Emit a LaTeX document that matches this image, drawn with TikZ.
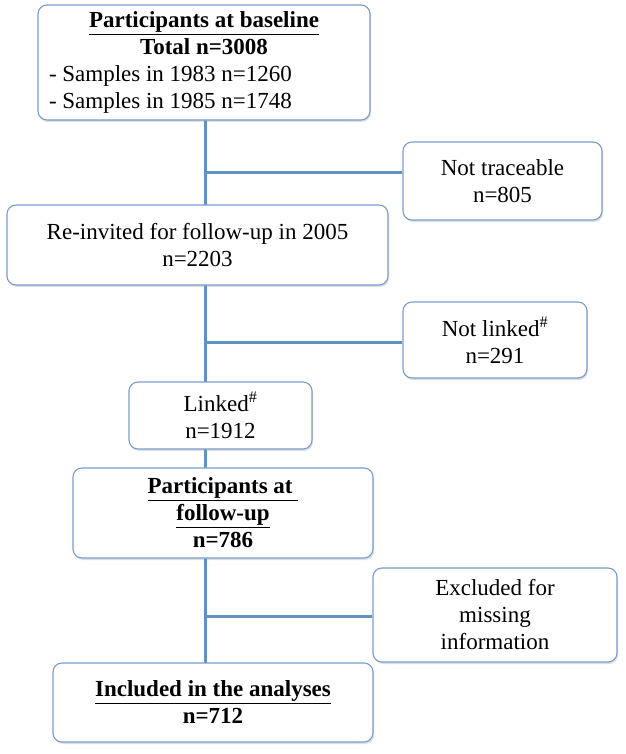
\documentclass[tikz,border=0pt]{standalone}
\usepackage{fontspec}
\setmainfont{Liberation Serif}
\usetikzlibrary{positioning,shadows}
\definecolor{boxline}{RGB}{120,156,205}
\definecolor{trunkline}{RGB}{98,145,196}
\tikzset{
  flowbox/.style={draw=boxline, line width=1.1pt, rounded corners=9pt, fill=white,
    align=center, font=\fontsize{23}{27}\selectfont, inner sep=2pt,
    drop shadow={shadow xshift=1pt, shadow yshift=-2pt, fill=black!25}},
  link/.style={trunkline, line width=3pt}
}
\begin{document}
\begin{tikzpicture}[x=1pt,y=-1pt]
        \useasboundingbox (0,0) rectangle (625,754);

        \coordinate (trunk) at (205,0);

        % trunk behind the boxes
        \coordinate (top) at (205,120);
        \coordinate (bottom) at (205,663);
        \draw[link] (top) -- (bottom);

        \node[flowbox, minimum width=332pt, minimum height=115pt] (base) at (204,62.5)
          {\textbf{\underline{Participants at baseline}}\\ \textbf{Total n=3008}\\
           \parbox[t]{310pt}{\fontsize{23}{27}\selectfont - Samples in 1983 n=1260\\- Samples in 1985 n=1748}};
        \node[flowbox, minimum width=199pt, minimum height=78pt] (nottrace) at (502.5,181)
          {Not traceable\\ n=805};
        \node[flowbox, minimum width=381pt, minimum height=80pt] (reinvite) at (197.5,245)
          {Re-invited for follow-up in 2005\\ n=2203};
        \node[flowbox, minimum width=184pt, minimum height=76pt] (notlinked) at (495,340)
          {Not linked\textsuperscript{\#}\\ n=291};
        \node[flowbox, minimum width=183pt, minimum height=67pt] (linked) at (220.5,415.5)
          {Linked\textsuperscript{\#}\\ n=1912};
        \node[flowbox, minimum width=300pt, minimum height=90pt] (followup) at (223,513)
          {\textbf{\underline{Participants at }}\\ \textbf{\underline{follow-up}}\\ \textbf{n=786}};
        \node[flowbox, minimum width=244pt, minimum height=94pt] (excluded) at (495,615)
          {Excluded for\\ missing\\ information};
        \node[flowbox, minimum width=320pt, minimum height=79pt] (included) at (213,702.5)
          {\textbf{\underline{Included in the analyses}}\\ \textbf{n=712}};

        \draw[link] (base.south -| trunk) -- (reinvite.north -| trunk);
        \draw[link] (reinvite.south -| trunk) -- (linked.north -| trunk);
        \draw[link] (linked.south -| trunk) -- (followup.north -| trunk);
        \draw[link] (followup.south -| trunk) -- (included.north -| trunk);

        \draw[link] (trunk |- 0,173) -- (nottrace.west |- 0,173);
        \draw[link] (trunk |- 0,342) -- (notlinked.west |- 0,342);
        \draw[link] (trunk |- 0,616) -- (excluded.west |- 0,616);
\end{tikzpicture}
\end{document}
